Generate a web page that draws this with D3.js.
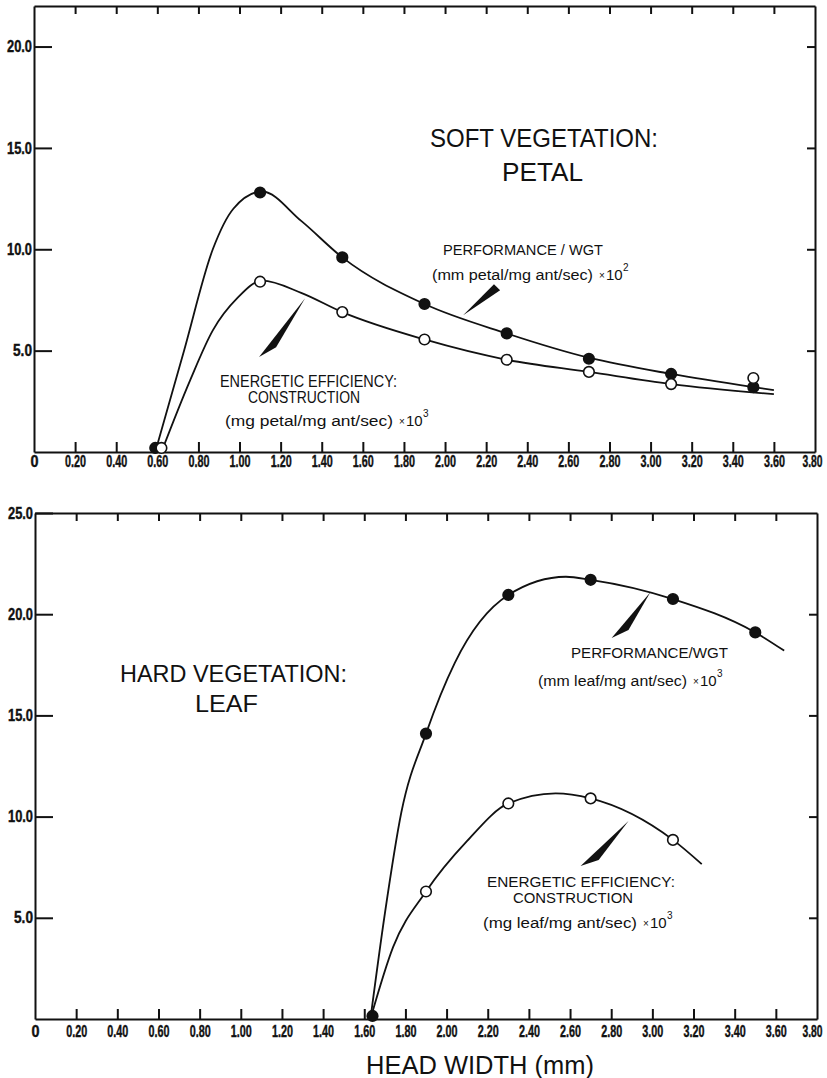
<!DOCTYPE html>
<html>
<head>
<meta charset="utf-8">
<script src="https://cdn.jsdelivr.net/npm/d3@7"></script>
<style>
  body { margin: 0; background: #fff; }
  .lbl { font-family: "Liberation Sans", Arial, sans-serif; fill: #111; }
  .domain, .tick line { stroke: #111; stroke-width: 2; }
</style>
</head>
<body>
<svg id="chart" width="827" height="1078"></svg>
<script>
// x axis (head width, mm)
const xTickValues = [0, 0.2, 0.4, 0.6, 0.8, 1.0, 1.2, 1.4, 1.6, 1.8, 2.0, 2.2, 2.4, 2.6, 2.8, 3.0, 3.2, 3.4, 3.6, 3.8];
const xTickLabels = ["0", "0.20", "0.40", "0.60", "0.80", "1.00", "1.20", "1.40", "1.60", "1.80", "2.00",
                     "2.20", "2.40", "2.60", "2.80", "3.00", "3.20", "3.40", "3.60", "3.80"];
const softYTicks = [5, 10, 15, 20];
const hardYTicks = [5, 10, 15, 20, 25];

// Soft vegetation (petal) measured points
const softPerfX = [0.59, 1.10, 1.50, 1.90, 2.30, 2.70, 3.10, 3.50];
const softPerfY = [0.2, 12.8, 9.6, 7.3, 5.85, 4.6, 3.85, 3.2];
const softEnergyX = [0.62, 1.10, 1.50, 1.90, 2.30, 2.70, 3.10, 3.50];
const softEnergyY = [0.2, 8.4, 6.9, 5.55, 4.55, 3.95, 3.35, 3.65];

// Hard vegetation (leaf) measured points
const hardPerfX = [1.64, 1.90, 2.30, 2.70, 3.10, 3.50];
const hardPerfY = [0.15, 14.1, 20.95, 21.7, 20.75, 19.1];
const hardEnergyX = [1.90, 2.30, 2.70, 3.10];
const hardEnergyY = [6.3, 10.65, 10.9, 8.85];

// hand-fitted curves
const softPerfFit = [[0.59, 0], [0.73, 5.0], [0.87, 10.0], [0.97, 12.0], [1.11, 12.85],
                     [1.3, 11.4], [1.5, 9.6], [1.9, 7.3], [2.3, 5.85], [2.7, 4.65], [3.1, 3.85], [3.5, 3.2], [3.6, 3.05]];
const softEnergyFit = [[0.62, 0], [0.76, 3.55], [0.87, 6.0], [0.99, 7.6], [1.11, 8.45], [1.3, 7.85],
                       [1.5, 6.9], [1.9, 5.55], [2.3, 4.55], [2.7, 3.95], [3.1, 3.35], [3.6, 2.85]];
const hardPerfFit = [[1.63, 0], [1.70, 5.2], [1.78, 10.2], [1.90, 14.1], [2.04, 17.6], [2.30, 20.95],
                     [2.58, 21.85], [2.70, 21.7], [3.10, 20.75], [3.50, 19.1], [3.64, 18.2]];
const hardEnergyFit = [[1.63, 0], [1.74, 3.55], [1.90, 6.3], [2.10, 8.8], [2.30, 10.65], [2.53, 11.15],
                       [2.70, 10.9], [3.10, 8.85], [3.24, 7.65]];

// pointer wedges (tip first), data units
const softPerfWedge = [[2.088, 6.75], [2.238, 8.28], [2.268, 7.98]];
const softEnergyWedge = [[1.319, 7.59], [1.095, 4.68], [1.178, 5.17]];
const hardPerfWedge = [[2.991, 21.1], [2.802, 18.82], [2.884, 19.22]];
const hardEnergyWedge = [[2.884, 9.78], [2.651, 7.56], [2.739, 7.86]];

const svg = d3.select("#chart");

// condensed bold tick numbers
function styleTicks(g, widthFor) {
    g.selectAll(".tick text")
        .attr("font-family", "'Liberation Sans', Arial, sans-serif")
        .attr("font-weight", "bold")
        .attr("font-size", 16)
        .attr("fill", "#111")
        .attr("stroke", "#111")
        .attr("stroke-width", 0.4)
        .attr("lengthAdjust", "spacingAndGlyphs")
        .attr("textLength", function() { return widthFor(this.textContent); });
}

function drawFrame(x, y, yTicks, labelPad) {
    const y0 = y.range()[0], y1 = y.range()[1];
    const x0 = x.range()[0], x1 = x.range()[1];

    svg.append("g")
        .attr("transform", `translate(0,${y0})`)
        .call(d3.axisBottom(x).tickValues(xTickValues)
            .tickFormat((d, i) => xTickLabels[i])
            .tickSizeInner(-10).tickSizeOuter(0).tickPadding(labelPad))
        .call(g => g.selectAll(".tick line").filter(d => d === 0 || d > 3.7).remove())
        .call(g => styleTicks(g, s => s.length === 1 ? 8 : 21))
        // last label sits against the page edge
        .call(g => g.selectAll(".tick text").filter(d => d > 3.7)
            .attr("text-anchor", "end").attr("x", 822 - x1).attr("textLength", 20));

    svg.append("g")
        .attr("transform", `translate(0,${y1})`)
        .call(d3.axisTop(x).tickValues(xTickValues.slice(1, -1))
            .tickFormat("").tickSizeInner(-8).tickSizeOuter(0));

    svg.append("g")
        .attr("transform", `translate(${x0},0)`)
        .call(d3.axisLeft(y).tickValues(yTicks)
            .tickFormat(d3.format(".1f"))
            .tickSizeInner(-18).tickSizeOuter(0).tickPadding(2))
        .call(g => styleTicks(g, s => s.length === 3 ? 19 : 25));

    svg.append("g")
        .attr("transform", `translate(${x1},0)`)
        .call(d3.axisRight(y).tickValues(yTicks.filter(d => d < y.domain()[1]))
            .tickFormat("").tickSizeInner(-8).tickSizeOuter(0));
}

function drawSeries(x, y, fit, xs, ys, filled) {
    const line = d3.line()
        .x(d => x(d[0]))
        .y(d => y(d[1]))
        .curve(d3.curveMonotoneX);

    svg.append("path")
        .attr("d", line(fit))
        .attr("fill", "none")
        .attr("stroke", "#111")
        .attr("stroke-width", 1.8);

    return xs.map((v, i) => ({ x: v, y: ys[i], filled: filled }));
}

function drawDots(x, y, pts) {
    svg.append("g").selectAll("circle")
        .data(pts)
        .enter().append("circle")
        .attr("cx", d => x(d.x))
        .attr("cy", d => y(d.y))
        .attr("r", 5.3)
        .attr("fill", d => d.filled ? "#111" : "#fff")
        .attr("stroke", "#111")
        .attr("stroke-width", 1.6);
}

function drawWedge(x, y, pts) {
    svg.append("path")
        .attr("d", d3.line().x(d => x(d[0])).y(d => y(d[1]))(pts) + "Z")
        .attr("fill", "#111");
}

function label(px, py, str, size, width) {
    return svg.append("text")
        .attr("class", "lbl")
        .attr("x", px).attr("y", py)
        .attr("font-size", size)
        .attr("textLength", width)
        .attr("lengthAdjust", "spacingAndGlyphs")
        .text(str);
}

function units(px, py, str, width, exp) {
    label(px, py, str, 14, width);
    const e = px + width;
    svg.append("text").attr("class", "lbl").attr("x", e + 6).attr("y", py - 1)
        .attr("font-size", 10).text("×");
    svg.append("text").attr("class", "lbl").attr("x", e + 13).attr("y", py)
        .attr("font-size", 15).text("10");
    svg.append("text").attr("class", "lbl").attr("x", e + 30).attr("y", py - 9)
        .attr("font-size", 10).text(exp);
}

// ---- Top panel: soft vegetation ----
const xTop = d3.scaleLinear().domain([0, 3.8]).range([34, 815]);
const yTop = d3.scaleLinear().domain([0, 22]).range([452, 6]);

drawFrame(xTop, yTop, softYTicks, 4);
const softPts = drawSeries(xTop, yTop, softPerfFit, softPerfX, softPerfY, true)
    .concat(drawSeries(xTop, yTop, softEnergyFit, softEnergyX, softEnergyY, false));
drawDots(xTop, yTop, softPts);
drawWedge(xTop, yTop, softPerfWedge);
drawWedge(xTop, yTop, softEnergyWedge);

label(430, 147, "SOFT VEGETATION:", 25, 228);
label(502, 181, "PETAL", 25, 81);
label(443, 255, "PERFORMANCE / WGT", 14, 160);
units(432, 280, "(mm petal/mg ant/sec)", 161, "2");
label(220, 387, "ENERGETIC EFFICIENCY:", 16, 177);
label(248, 403, "CONSTRUCTION", 16, 112);
units(225, 426, "(mg petal/mg ant/sec)", 168, "3");

// ---- Bottom panel: hard vegetation ----
const xBot = d3.scaleLinear().domain([0, 3.8]).range([35, 817]);
const yBot = d3.scaleLinear().domain([0, 25]).range([1019, 513]);

drawFrame(xBot, yBot, hardYTicks, 7);
const hardPts = drawSeries(xBot, yBot, hardPerfFit, hardPerfX, hardPerfY, true)
    .concat(drawSeries(xBot, yBot, hardEnergyFit, hardEnergyX, hardEnergyY, false));
drawDots(xBot, yBot, hardPts);
drawWedge(xBot, yBot, hardPerfWedge);
drawWedge(xBot, yBot, hardEnergyWedge);

label(120, 682, "HARD VEGETATION:", 24, 227);
label(195, 712, "LEAF", 24, 63);
label(571, 658, "PERFORMANCE/WGT", 15, 157);
units(538, 686, "(mm leaf/mg ant/sec)", 149, "3");
label(487, 887, "ENERGETIC EFFICIENCY:", 15, 188);
label(513, 903, "CONSTRUCTION", 15, 120);
units(483, 928, "(mg leaf/mg ant/sec)", 154, "3");

// x axis title
label(366, 1074, "HEAD WIDTH (mm)", 25, 228);
</script>
</body>
</html>
